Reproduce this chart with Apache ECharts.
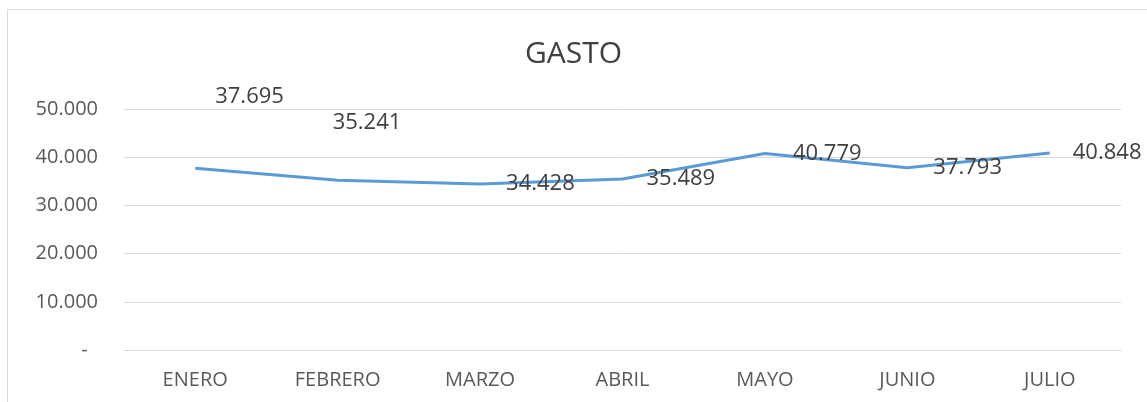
<!DOCTYPE html>
<html>
<head>
<meta charset="utf-8">
<script src="https://cdn.jsdelivr.net/npm/echarts@6/dist/echarts.min.js"></script>
<style>
	html, body { margin: 0; padding: 0; background: #fff; }
	#frame { position: absolute; left: 7px; top: 9px; width: 2000px; height: 1000px; border: 1px solid #d9d9d9; }
	#gasto_chart { position: absolute; left: 0; top: 0; width: 1147px; height: 402px; }
</style>
</head>
<body>
<div id="frame"></div>
<div id="gasto_chart"></div>
<script>
	/** 数据 **/
	var meses = ['ENERO', 'FEBRERO', 'MARZO', 'ABRIL', 'MAYO', 'JUNIO', 'JULIO'];
	var gasto = [37695, 35241, 34428, 35489, 40779, 37793, 40848];
	var yTicks = [0, 10000, 20000, 30000, 40000, 50000];

	// label offsets, like Excel left them (x, y from the point)
	var labelOffsets = [[20, -72], [-5, -57], [26, 0], [24, 0], [28, 0], [26, 0], [23, 0]];

	function fmt(v){
		if (v === 0) return '-  ';
		return String(v).replace(/\B(?=(\d{3})+(?!\d))/g, '.');
	}

	var chart = echarts.init(document.getElementById('gasto_chart'));

	var serieData = gasto.map(function(v, i){
		return {
			value: v,
			label: { offset: labelOffsets[i] }
		};
	});

	var option = {
		animation: false,
		title: {
			text: 'GASTO',
			left: 'center',
			top: 34,
			textStyle: {
				color: '#404040',
				fontFamily: 'Open Sans',
				fontWeight: 'normal',
				fontSize: 30
			}
		},
		grid: {
			left: 124,
			right: 26,
			top: 109,
			bottom: 52
		},
		xAxis: {
			type: 'category',
			data: meses,
			boundaryGap: true,
			axisLine: { lineStyle: { color: '#d9d9d9' } },
			axisTick: { show: false },
			axisLabel: {
				color: '#595959',
				fontFamily: 'Open Sans',
				fontSize: 20,
				margin: 20
			}
		},
		yAxis: {
			type: 'value',
			min: yTicks[0],
			max: yTicks[yTicks.length - 1],
			interval: yTicks[1] - yTicks[0],
			axisLine: { show: false },
			axisTick: { show: false },
			splitLine: { lineStyle: { color: '#d9d9d9', width: 1 } },
			axisLabel: {
				color: '#595959',
				fontFamily: 'Open Sans',
				fontSize: 20,
				margin: 26,
				formatter: fmt
			}
		},
		series: [
			{
				name: 'GASTO',
				type: 'line',
				data: serieData,
				showSymbol: true,
				symbol: 'circle',
				symbolSize: 0,
				lineStyle: { color: '#5b9bd5', width: 3 },
				itemStyle: { color: '#5b9bd5' },
				label: {
					show: true,
					position: 'right',
					distance: 0,
					color: '#404040',
					fontFamily: 'Open Sans',
					fontSize: 22,
					formatter: function(p){ return fmt(p.value); }
				}
			}
		]
	};
	chart.setOption(option);
</script>
</body>
</html>
